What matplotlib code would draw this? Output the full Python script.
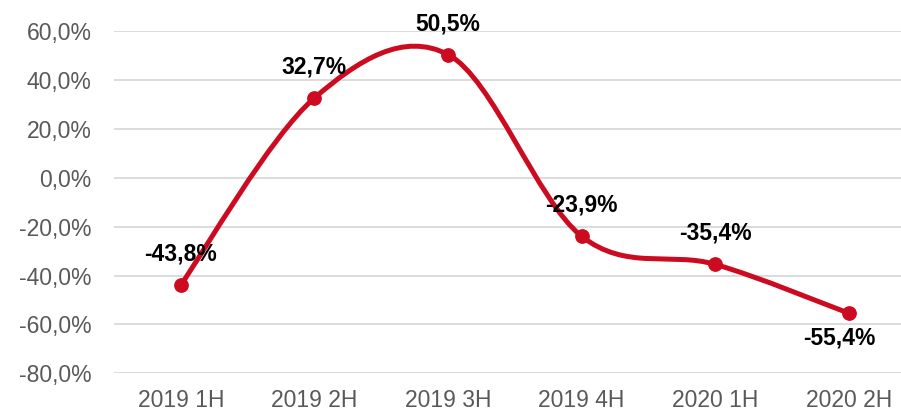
import matplotlib
matplotlib.use("Agg")
import matplotlib.pyplot as plt
from matplotlib.path import Path
from matplotlib.patches import PathPatch
from matplotlib.ticker import FuncFormatter, MultipleLocator
import numpy as np

categories = ["2019 1H", "2019 2H", "2019 3H", "2019 4H", "2020 1H", "2020 2H"]
values = [-43.8, 32.7, 50.5, -23.9, -35.4, -55.4]
labels = ["-43,8%", "32,7%", "50,5%", "-23,9%", "-35,4%", "-55,4%"]
label_below = [False, False, False, False, False, True]

plt.rcParams['font.family'] = ['Liberation Sans', 'DejaVu Sans']
RED = "#cc0a20"
GRAY = "#595959"

fig = plt.figure(figsize=(9.01, 4.13), dpi=100)
ax = fig.add_axes([114 / 901, (413 - 373.3) / 413, 1 - 114 / 901, (373.3 - 31.3) / 413])

x = np.arange(len(values), dtype=float)
y = np.array(values)
n = len(x)

# Catmull-Rom style smoothing (like Excel's smoothed line)
verts = [(x[0], y[0])]
codes = [Path.MOVETO]
for i in range(n - 1):
    p0 = np.array([x[max(i - 1, 0)], y[max(i - 1, 0)]])
    p1 = np.array([x[i], y[i]])
    p2 = np.array([x[i + 1], y[i + 1]])
    p3 = np.array([x[min(i + 2, n - 1)], y[min(i + 2, n - 1)]])
    c1 = p1 + (p2 - p0) / 6.0
    c2 = p2 - (p3 - p1) / 6.0
    verts += [tuple(c1), tuple(c2), tuple(p2)]
    codes += [Path.CURVE4] * 3
path = Path(verts, codes)
ax.add_patch(PathPatch(path, facecolor="none", edgecolor=RED, lw=3.6,
                       capstyle="round", joinstyle="round", zorder=3))
ax.plot(x, y, linestyle="none", marker="o", ms=9.6, color=RED, zorder=4)

for xi, yi, lab, below in zip(x, y, labels, label_below):
    off = -25 if below else 31
    ax.annotate(lab, (xi, yi), xytext=(-9 if below else 0, off), textcoords="offset pixels",
                ha="center", va="center", fontsize=16.5, fontweight="bold",
                color="black", zorder=5)

ax.set_xlim(-0.5, -0.5 + (901 - 114) / 133.6)
ax.set_ylim(-80, 60)
ax.yaxis.set_major_locator(MultipleLocator(20))
ax.yaxis.set_major_formatter(FuncFormatter(lambda v, p: f"{v:.1f}%".replace(".", ",")))
ax.set_xticks(x)
ax.set_xticklabels(categories)
ax.grid(axis="y", color="#d9d9d9", lw=1.3, zorder=0)
ax.set_axisbelow(True)
for s in ax.spines.values():
    s.set_visible(False)
ax.tick_params(axis="both", length=0, labelsize=16.5, labelcolor=GRAY)
ax.tick_params(axis="y", pad=16)
ax.tick_params(axis="x", pad=11)
ax.set_facecolor("none")

fig.savefig("out.png", dpi=100)
